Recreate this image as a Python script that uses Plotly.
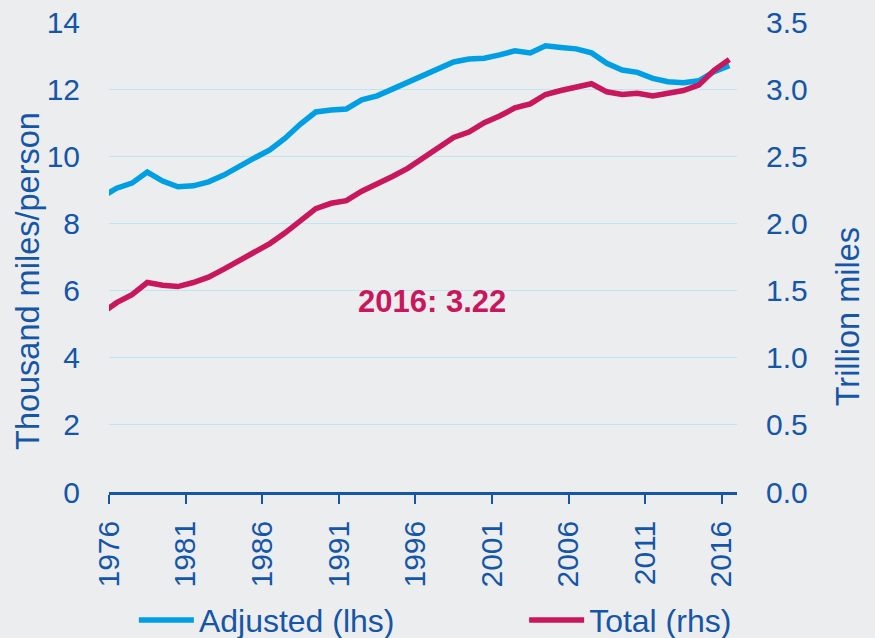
import plotly.graph_objects as go

# Years (values plotted at mid-year); 1975 only supplies the clipped start of each line
years = list(range(1975, 2017))
adjusted_thousand_miles_per_person = [
    8.78, 9.05, 9.20, 9.53, 9.26, 9.09, 9.12, 9.24, 9.44, 9.71, 9.95,
    10.19, 10.54, 10.96, 11.32, 11.38, 11.41, 11.68, 11.80, 12.00, 12.20,
    12.38, 12.62, 12.81, 12.90, 12.92, 13.02, 13.14, 13.08, 13.29, 13.24,
    13.20, 13.08, 12.77, 12.57, 12.50, 12.32, 12.22, 12.19, 12.25, 12.52,
    12.70,
]
total_trillion_miles = [
    1.33, 1.41, 1.47, 1.56, 1.54, 1.53, 1.56, 1.60, 1.66, 1.72, 1.78,
    1.85, 1.93, 2.02, 2.11, 2.15, 2.17, 2.24, 2.29, 2.35, 2.41,
    2.49, 2.57, 2.64, 2.68, 2.75, 2.80, 2.86, 2.89, 2.96, 2.99,
    3.01, 3.04, 2.98, 2.96, 2.97, 2.95, 2.97, 2.99, 3.03, 3.14,
    3.22,
]
x_tick_years = list(range(1976, 2017, 5))
left_ticks = [0, 2, 4, 6, 8, 10, 12, 14]
right_ticks = [0.0, 0.5, 1.0, 1.5, 2.0, 2.5, 3.0, 3.5]

BLUE = "#009FE3"
RED = "#C8175D"
TEXT = "#1556A6"
GRID = "#BDE5F6"
BG = "#ECEDEF"
FONT = "Liberation Sans, Arial, sans-serif"

x_mid = [y + 0.5 for y in years]

fig = go.Figure()
fig.add_trace(go.Scatter(
    x=x_mid, y=adjusted_thousand_miles_per_person, mode="lines",
    name="Adjusted (lhs)", line=dict(color=BLUE, width=5.5), yaxis="y",
    legend="legend",
))
fig.add_trace(go.Scatter(
    x=x_mid, y=total_trillion_miles, mode="lines",
    name="Total (rhs)", line=dict(color=RED, width=5.5), yaxis="y2",
    legend="legend2",
))

legend_common = dict(
    orientation="h", xref="container", yref="container",
    xanchor="left", y=0.028, yanchor="middle",
    font=dict(size=32, color=TEXT), bgcolor="rgba(0,0,0,0)",
    itemwidth=55,
)

fig.update_layout(
    width=875, height=638,
    margin=dict(l=109, r=138, t=22, b=146, autoexpand=False),
    paper_bgcolor=BG, plot_bgcolor=BG,
    font=dict(family=FONT, size=30, color=TEXT),
    xaxis=dict(
        range=[1976, 2017], tickvals=x_tick_years,
        ticktext=[str(v) for v in x_tick_years], tickangle=-90,
        ticks="outside", ticklen=9, tickwidth=2, tickcolor=TEXT,
        showline=True, linecolor=TEXT, linewidth=2.5,
        showgrid=False, zeroline=False, automargin=False,
        ticklabelstandoff=5,
        tickfont=dict(size=30, color=TEXT),
    ),
    yaxis=dict(
        range=[0, 14], tickvals=left_ticks,
        showgrid=True, gridcolor=GRID, gridwidth=1.2,
        zeroline=False, showline=False, ticks="", automargin=False,
        ticklabelstandoff=28,
        tickfont=dict(size=30, color=TEXT),
    ),
    yaxis2=dict(
        range=[0, 3.5], tickvals=right_ticks, tickformat=".1f",
        overlaying="y", side="right",
        showgrid=False, zeroline=False, showline=False, ticks="", automargin=False,
        ticklabelstandoff=28,
        tickfont=dict(size=30, color=TEXT),
    ),
    showlegend=True,
    legend=dict(x=0.153, **legend_common),
    legend2=dict(x=0.599, **legend_common),
    annotations=[
        dict(text="Thousand miles/person", textangle=-90, showarrow=False,
             xref="paper", yref="paper", x=-0.129, y=0.449,
             xanchor="center", yanchor="middle",
             font=dict(size=32.5, color=TEXT)),
        dict(text="Trillion miles", textangle=-90, showarrow=False,
             xref="paper", yref="paper", x=1.177, y=0.372,
             xanchor="center", yanchor="middle",
             font=dict(size=32.5, color=TEXT)),
        dict(text="<b>2016: 3.22</b>", showarrow=False,
             xref="paper", yref="paper", x=0.514, y=0.406,
             xanchor="center", yanchor="middle",
             font=dict(size=31, color=RED)),
    ],
)

fig.write_html(
    "out.html",
    config={"displayModeBar": False},
    post_script="document.body.style.margin='0';document.body.style.background='" + BG + "';",
)
